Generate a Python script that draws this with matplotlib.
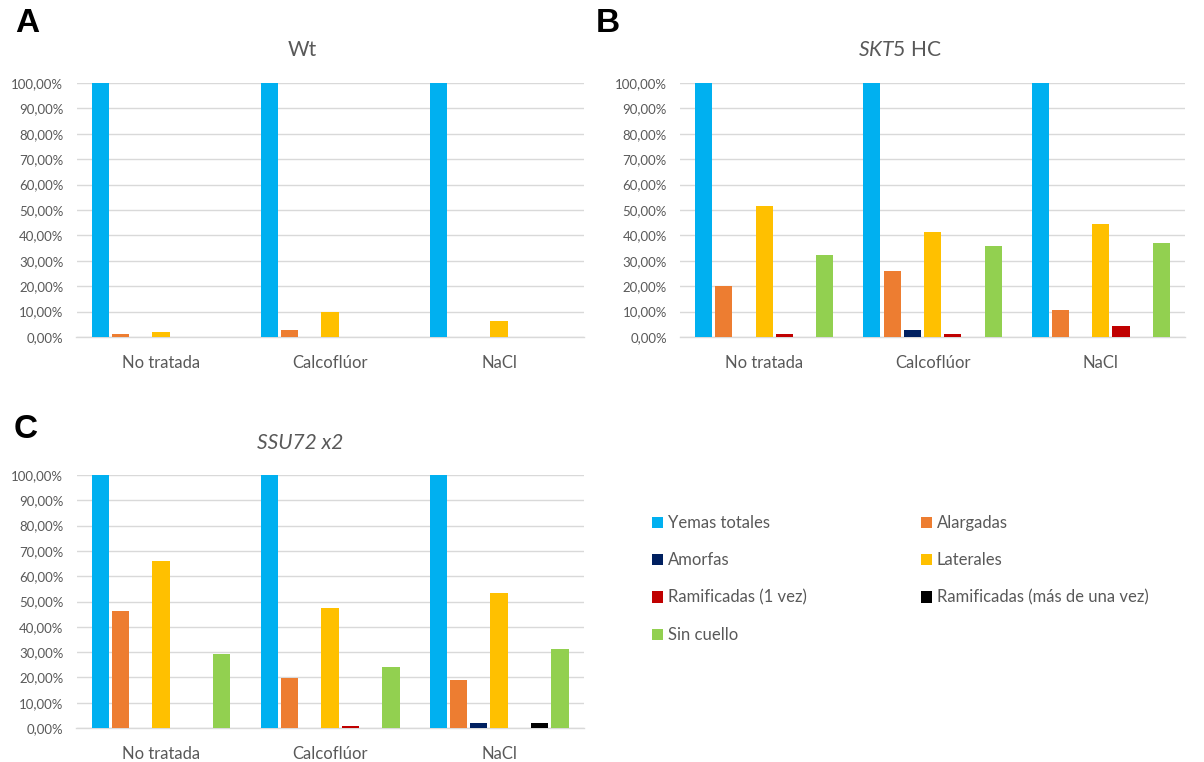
import matplotlib
matplotlib.use("Agg")
import matplotlib.pyplot as plt
from matplotlib.ticker import FuncFormatter

plt.rcParams['font.family'] = ['Lato', 'DejaVu Sans']
plt.rcParams['mathtext.fontset'] = 'custom'
plt.rcParams['mathtext.it'] = 'Lato:italic'
plt.rcParams['mathtext.rm'] = 'Lato'

# ---------------- data ----------------
categories = ["No tratada", "Calcoflúor", "NaCl"]
series_names = ["Yemas totales", "Alargadas", "Amorfas", "Laterales",
                "Ramificadas (1 vez)", "Ramificadas (más de una vez)", "Sin cuello"]
series_colors = ["#00B0F0", "#ED7D31", "#002060", "#FFC000",
                 "#C00000", "#000000", "#92D050"]

# values in %, one list per series (order of series_names), per category
wt_values = [
    [100, 100, 100],
    [1.1, 2.7, 0],
    [0, 0, 0],
    [2.1, 10.0, 6.3],
    [0, 0, 0],
    [0, 0, 0],
    [0, 0, 0],
]
skt5_values = [
    [100, 100, 100],
    [20.0, 25.9, 10.5],
    [0, 2.9, 0],
    [51.7, 41.3, 44.3],
    [1.2, 1.2, 4.3],
    [0, 0, 0],
    [32.1, 36.0, 37.1],
]
ssu72_values = [
    [100, 100, 100],
    [46.1, 19.6, 19.0],
    [0, 0, 2.0],
    [66.2, 47.6, 53.3],
    [0, 0.6, 0],
    [0, 0, 2.0],
    [29.2, 24.1, 31.4],
]
yticks = [0, 10, 20, 30, 40, 50, 60, 70, 80, 90, 100]

# ---------------- figure ----------------
W, H = 1204, 762
fig = plt.figure(figsize=(W / 100, H / 100), dpi=100)

TXT = "#595959"
GRID = "#D9D9D9"
PITCH = 0.12
BW = 0.102


def px_axes(left, top, right, bottom):
    return fig.add_axes([left / W, 1 - bottom / H, (right - left) / W, (bottom - top) / H])


def draw_panel(ax, values):
    x = list(range(len(categories)))
    bars = []
    n = len(series_names)
    for i, (name, col, vals) in enumerate(zip(series_names, series_colors, values)):
        off = (i - (n - 1) / 2) * PITCH
        b = ax.bar([xi + off for xi in x], vals, width=BW, color=col, label=name,
                   zorder=3, linewidth=0)
        bars.append(b)
    ax.set_xlim(-0.5, len(categories) - 0.5)
    ax.set_ylim(0, 100)
    ax.set_yticks(yticks)
    ax.yaxis.set_major_formatter(FuncFormatter(lambda v, p: f"{v:.2f}%".replace('.', ',')))
    ax.set_xticks(x)
    ax.set_xticklabels(categories)
    ax.grid(axis='y', color=GRID, linewidth=1.0, zorder=0)
    for s in ['top', 'right', 'left']:
        ax.spines[s].set_visible(False)
    ax.spines['bottom'].set_color(GRID)
    ax.spines['bottom'].set_linewidth(1.0)
    ax.spines['bottom'].set_zorder(1)
    ax.tick_params(axis='y', length=0, pad=9.5, labelsize=9.5, labelcolor=TXT)
    ax.tick_params(axis='x', length=0, pad=13, labelsize=12, labelcolor=TXT)
    return bars


axA = px_axes(76.5, 83, 583.6, 337)
barsA = draw_panel(axA, wt_values)
axB = px_axes(680, 83, 1185, 337)
draw_panel(axB, skt5_values)
axC = px_axes(76.5, 475, 583.6, 728)
draw_panel(axC, ssu72_values)

# titles
fig.text(302 / W, 1 - 50 / H, "Wt", ha='center', va='center', fontsize=15, color=TXT)
fig.text(900 / W, 1 - 50 / H, r"$\mathit{SKT5}$ HC", ha='center', va='center',
         fontsize=15, color=TXT)
fig.text(300 / W, 1 - 443 / H, "SSU72 x2", ha='center', va='center', fontsize=15,
         color=TXT, style='italic')

# panel letters
for lbl, xx, yy in [("A", 27, 24), ("B", 608, 24), ("C", 26, 430)]:
    fig.text(xx / W, 1 - yy / H, lbl, ha='center', va='center', fontsize=24,
             fontweight='bold', color='black', family=['Liberation Sans', 'DejaVu Sans'])

# legend (two columns)
left_idx = [0, 2, 4, 6]
right_idx = [1, 3, 5]
common = dict(loc='upper left', frameon=False, fontsize=12, handlelength=0.65,
              handleheight=0.65, handletextpad=0.3, labelspacing=1.28,
              borderpad=0, borderaxespad=0, labelcolor=TXT)
fig.legend([barsA[i] for i in left_idx], [series_names[i] for i in left_idx],
           bbox_to_anchor=(652 / W, 1 - 515 / H), **common)
fig.legend([barsA[i] for i in right_idx], [series_names[i] for i in right_idx],
           bbox_to_anchor=(921 / W, 1 - 515 / H), **common)

fig.savefig("out.png", dpi=100, facecolor='white')
